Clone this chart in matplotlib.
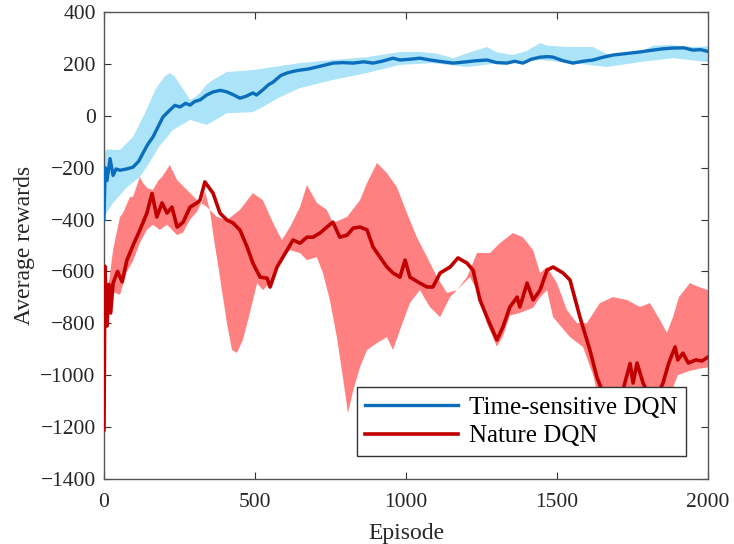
import matplotlib
matplotlib.use("Agg")
import matplotlib.pyplot as plt
import numpy as np

plt.rcParams['font.family'] = ['Liberation Serif', 'DejaVu Serif']

# ---- Time-sensitive DQN (blue) ----
ts_x = [0, 4, 10, 20, 30, 40, 53, 75, 96, 115, 129, 145, 162, 180, 195, 218, 235, 252, 270, 285,
        300, 318, 340, 361, 385, 407, 430, 450, 470, 493, 505, 526, 545, 560, 585, 606, 630, 649,
        675, 705, 730, 758, 790, 825, 860, 891, 920, 957, 980, 1013, 1046, 1080, 1110, 1156, 1200,
        1230, 1268, 1300, 1334, 1360, 1387, 1415, 1444, 1470, 1487, 1520, 1553, 1585, 1619, 1650,
        1685, 1730, 1775, 1810, 1850, 1884, 1920, 1950, 1975, 2000]
ts_mean = [-400, -200, -250, -165, -230, -205, -210, -205, -198, -175, -144, -110, -82, -40, -5, 22,
           40, 34, 48, 41, 55, 61, 80, 92, 98, 92, 80, 68, 75, 88, 80, 100, 120, 130, 155, 165, 172,
           176, 180, 188, 195, 203, 205, 203, 208, 203, 210, 222, 215, 218, 222, 215, 210, 203, 208,
           212, 215, 205, 203, 210, 203, 218, 226, 228, 226, 212, 203, 210, 215, 225, 234, 240, 246,
           252, 258, 261, 262, 253, 255, 248]
ts_up_x = [0, 10, 53, 96, 140, 170, 200, 218, 235, 252, 275, 285, 300, 318, 340, 361, 407, 450, 493,
           560, 649, 758, 871, 980, 1046, 1100, 1156, 1200, 1268, 1300, 1354, 1400, 1444, 1470, 1533,
           1619, 1685, 1730, 1775, 1818, 1870, 1950, 2000]
ts_up = [-144, -130, -132, -82, 20, 100, 150, 165, 150, 120, 80, 61, 70, 88, 120, 138, 169, 172, 176,
         188, 203, 215, 226, 246, 246, 240, 222, 240, 265, 245, 234, 250, 280, 270, 265, 265, 226, 240,
         246, 270, 273, 265, 268]
ts_lo_x = [0, 30, 76, 119, 150, 182, 228, 285, 341, 407, 493, 526, 583, 649, 758, 871, 980, 1089,
           1202, 1311, 1444, 1553, 1665, 1775, 1884, 2000]
ts_lo = [-390, -336, -275, -236, -182, -120, -55, -16, -35, 10, 14, 34, 72, 107, 138, 165, 196, 203,
         188, 203, 215, 203, 188, 207, 222, 207]

# ---- Nature DQN (red) ----
nd_x = [0, 3, 10, 16, 22, 30, 45, 60, 76, 96, 119, 142, 159, 175, 192, 209, 225, 242, 262, 285, 308,
        318, 334, 361, 384, 407, 427, 450, 474, 493, 517, 540, 550, 573, 606, 626, 649, 672, 692, 715,
        738, 758, 781, 805, 825, 848, 871, 891, 914, 937, 957, 980, 997, 1013, 1046, 1070, 1089, 1113,
        1146, 1172, 1202, 1222, 1245, 1268, 1301, 1321, 1344, 1368, 1377, 1401, 1421, 1444, 1467,
        1487, 1520, 1543, 1576, 1609, 1632, 1660, 1690, 1720, 1742, 1752, 1765, 1785, 1810, 1835,
        1851, 1870, 1891, 1900, 1917, 1935, 1960, 1980, 2000]
nd_mean = [-1210, -580, -810, -650, -760, -645, -600, -640, -556, -500, -440, -375, -300, -390, -336,
           -375, -352, -429, -410, -352, -336, -325, -255, -298, -375, -402, -413, -440, -506, -568,
           -622, -626, -660, -583, -518, -479, -491, -468, -468, -452, -429, -410, -468, -460, -433,
           -429, -440, -506, -545, -583, -606, -622, -556, -622, -645, -660, -660, -606, -583, -548,
           -568, -595, -710, -776, -864, -814, -737, -699, -737, -645, -710, -672, -595, -583, -606,
           -633, -776, -903, -1007, -1090, -1110, -1050, -955, -1030, -953, -1030, -1090, -1070,
           -1030, -953, -891, -941, -915, -953, -941, -945, -930]
nd_up_x = [10, 30, 53, 63, 86, 96, 119, 129, 145, 162, 180, 192, 218, 242, 275, 308, 341, 374, 407,
           450, 493, 526, 560, 589, 616, 649, 672, 705, 738, 758, 805, 848, 871, 904, 937, 970, 1003,
           1036, 1070, 1103, 1136, 1169, 1202, 1235, 1278, 1311, 1354, 1387, 1421, 1444, 1467, 1500,
           1533, 1566, 1599, 1642, 1685, 1732, 1775, 1808, 1841, 1864, 1884, 1904, 1940, 1970, 2000]
nd_up = [-700, -518, -390, -375, -313, -313, -236, -259, -280, -286, -250, -236, -190, -248, -286,
         -325, -352, -390, -402, -363, -298, -325, -413, -479, -429, -352, -267, -336, -363, -413,
         -390, -325, -259, -182, -221, -275, -375, -468, -545, -622, -683, -672, -622, -529, -529,
         -491, -452, -468, -518, -606, -583, -645, -749, -799, -799, -722, -699, -710, -737, -722,
         -787, -837, -776, -699, -645, -660, -672]
nd_lo_x = [10, 30, 53, 76, 96, 119, 142, 162, 185, 209, 242, 262, 285, 308, 325, 334, 350, 361, 384,
           407, 424, 440, 460, 483, 507, 526, 550, 583, 616, 649, 672, 705, 725, 748, 771, 791, 808,
           825, 848, 871, 904, 937, 957, 980, 1013, 1046, 1079, 1113, 1146, 1179, 1212, 1235, 1268,
           1301, 1321, 1344, 1377, 1421, 1444, 1467, 1487, 1543, 1586, 1620, 1660, 1700, 1750, 1800,
           1850, 1900, 1935, 1970, 2000]
nd_lo = [-820, -680, -690, -600, -560, -490, -440, -420, -440, -420, -460, -450, -400, -370, -330,
         -290, -360, -452, -622, -799, -903, -914, -864, -760, -645, -672, -645, -556, -518, -529,
         -556, -545, -606, -710, -853, -1007, -1146, -1060, -968, -903, -876, -853, -903, -826, -722,
         -672, -737, -776, -699, -660, -622, -672, -800, -890, -850, -770, -760, -740, -700, -672,
         -776, -853, -891, -1000, -1200, -1220, -1150, -1200, -1150, -1000, -985, -975, -970]

labels = ['Time-sensitive DQN', 'Nature DQN']
xticks = [0, 500, 1000, 1500, 2000]
yticks = list(range(-1400, 401, 200))

fig = plt.figure(figsize=(7.34, 5.44), dpi=100)
ax = fig.add_axes([104/734, 1-479/544, 604/734, 467/544])

ax.fill(np.concatenate([ts_up_x, ts_lo_x[::-1]]), np.concatenate([ts_up, ts_lo[::-1]]),
        color='#ABE3F8', lw=0, zorder=1)
ax.fill(np.concatenate([nd_up_x, nd_lo_x[::-1]]), np.concatenate([nd_up, nd_lo[::-1]]),
        color='#FF8080', lw=0, zorder=2)
l2, = ax.plot(nd_x, nd_mean, color='#C00000', lw=2.6, zorder=3)
l1, = ax.plot(ts_x, ts_mean, color='#0A6EBD', lw=2.4, zorder=4)

ax.set_xlim(0, 2000)
ax.set_ylim(-1400, 400)
ax.set_xticks(xticks)
ax.set_yticks(yticks)
ax.tick_params(direction='in', top=True, right=True, labelsize=15.5, length=5, width=0.8,
               color='#333333', labelcolor='#262626')
ax.tick_params(axis='x', pad=10)
ax.tick_params(axis='y', pad=6)
for s in ax.spines.values():
    s.set_color('#555555')
    s.set_linewidth(1.0)
ax.set_xlabel('Episode', fontsize=17, color='#262626', labelpad=8)
ax.set_ylabel('Average rewards', fontsize=17, color='#262626', labelpad=4)

leg = ax.legend([l1, l2], labels, loc='lower right', bbox_to_anchor=(0.964, 0.049),
                borderaxespad=0, fontsize=18, fancybox=False, frameon=True, framealpha=1,
                edgecolor='#333333', handlelength=3.7, handletextpad=0.45, labelspacing=0.25,
                borderpad=0.35)
leg.get_frame().set_linewidth(1.0)
leg.set_zorder(10)

fig.savefig('out.png', dpi=100)
